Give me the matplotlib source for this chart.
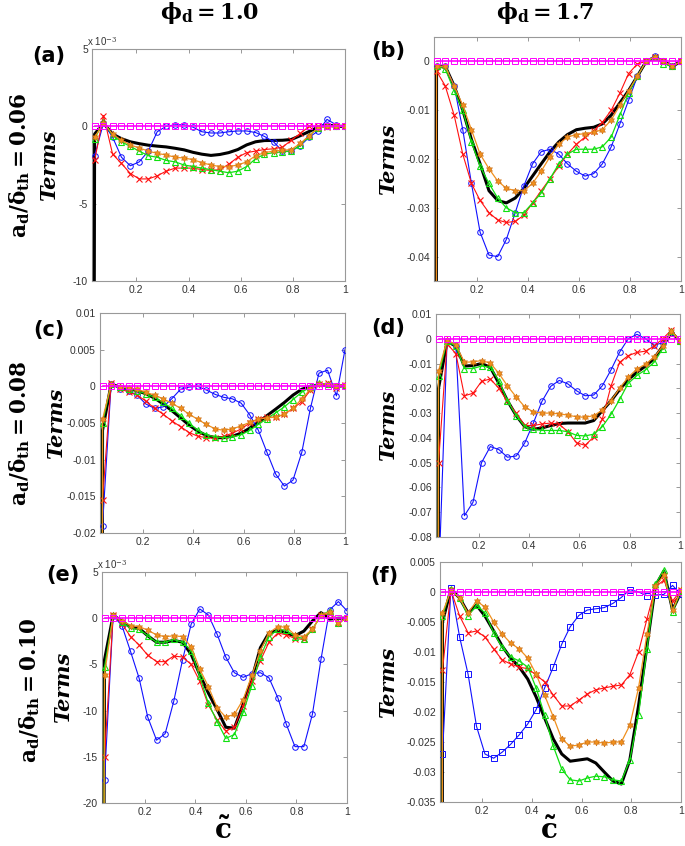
import numpy as np
import matplotlib
matplotlib.use("Agg")
import matplotlib.pyplot as plt

plt.rcParams["mathtext.fontset"] = "dejavuserif"

# progress variable grid; the first entry sits just left of the axis so the
# steep drop at small c shows up as a near-vertical line
C = [0.035, 0.040, 0.074, 0.109, 0.143, 0.177, 0.211, 0.246, 0.280, 0.314, 0.349,
     0.383, 0.417, 0.451, 0.486, 0.520, 0.554, 0.589, 0.623, 0.657, 0.691,
     0.726, 0.760, 0.794, 0.829, 0.863, 0.897, 0.931, 0.966, 1.000]
NAN = float("nan")
ZERO = [NAN, 0, 0, 0, 0, 0, 0, 0, 0, 0, 0, 0, 0, 0, 0, 0, 0, 0, 0, 0, 0,
        0, 0, 0, 0, 0, 0, 0, 0, 0]

# (a) phi=1.0, a/delta=0.06  (x 1e-3)
A_BLACK = [-40, -0.5, 0.2, -0.5, -0.8, -1.0, -1.12, -1.22, -1.28, -1.33, -1.42, -1.52, -1.68, -1.8, -1.88,
           -1.82, -1.7, -1.5, -1.2, -1.0, -0.92, -0.91, -0.9, -0.85, -0.6, -0.33, -0.05, 0.1, 0.0, 0.0]
A_BLUE = [NAN, -1.9, 0.2, -0.7, -2.0, -2.55, -2.3, -1.6, -0.35, 0.0, 0.1, 0.1, -0.05, -0.35, -0.43,
          -0.43, -0.35, -0.3, -0.3, -0.4, -0.65, -1.0, -1.6, -1.6, -1.25, -0.7, -0.3, 0.45, 0.1, 0.0]
A_RED = [NAN, -2.2, 0.7, -1.8, -2.4, -3.05, -3.4, -3.4, -3.2, -2.9, -2.7, -2.7, -2.7, -2.8, -2.85,
         -2.8, -2.45, -2.0, -1.7, -1.6, -1.5, -1.45, -1.35, -0.9, -0.45, 0.0, 0.0, -0.05, 0.0, 0.0]
A_GREEN = [NAN, -0.8, 0.3, -0.6, -1.0, -1.3, -1.6, -1.9, -2.0, -2.2, -2.3, -2.5, -2.6, -2.7, -2.8,
           -2.9, -3.0, -2.9, -2.6, -2.1, -1.8, -1.7, -1.65, -1.6, -1.2, -0.6, -0.1, 0.0, 0.0, 0.0]
A_ORANGE = [NAN, -0.7, 0.2, -0.5, -0.9, -1.2, -1.4, -1.6, -1.75, -1.85, -2.0, -2.05, -2.15, -2.35, -2.5,
            -2.6, -2.6, -2.5, -2.3, -1.9, -1.7, -1.6, -1.55, -1.5, -1.1, -0.6, -0.1, 0.0, 0.0, 0.0]

# (b) phi=1.7, a/delta=0.06
B_BLACK = [-0.3, -0.001, -0.001, -0.005, -0.010, -0.016, -0.021, -0.0265, -0.0285, -0.029, -0.028,
           -0.026, -0.0235, -0.021, -0.0185, -0.0165, -0.015, -0.014, -0.0137, -0.0135, -0.0128,
           -0.011, -0.0085, -0.006, -0.003, 0.0, 0.0008, 0.0, -0.001, 0.0]
B_BLUE = [NAN, -0.001, -0.001, -0.005, -0.014, -0.025, -0.035, -0.0397, -0.040, -0.0365, -0.031,
          -0.0255, -0.021, -0.0185, -0.018, -0.019, -0.021, -0.0225, -0.0235, -0.023, -0.021,
          -0.0175, -0.0128, -0.008, -0.003, 0.0, 0.0012, 0.0, -0.001, 0.0]
B_RED = [NAN, -0.002, -0.005, -0.011, -0.019, -0.025, -0.0285, -0.031, -0.0325, -0.033, -0.0328,
         -0.0315, -0.029, -0.0265, -0.024, -0.0215, -0.019, -0.017, -0.0155, -0.0142, -0.0125,
         -0.010, -0.0065, -0.0025, -0.0005, 0.0, 0.001, 0.0, -0.001, 0.0]
B_GREEN = [NAN, -0.001, -0.0015, -0.006, -0.010, -0.0165, -0.0215, -0.025, -0.028, -0.030, -0.031,
           -0.031, -0.029, -0.027, -0.024, -0.021, -0.019, -0.018, -0.018, -0.018, -0.0175,
           -0.0155, -0.011, -0.0065, -0.003, 0.0, 0.0008, -0.0005, -0.001, 0.0]
B_ORANGE = [-0.3, -0.001, -0.001, -0.005, -0.009, -0.014, -0.019, -0.022, -0.0245, -0.026, -0.0265,
            -0.0265, -0.025, -0.0225, -0.0195, -0.017, -0.0155, -0.015, -0.0148, -0.0145, -0.014,
            -0.012, -0.009, -0.006, -0.003, 0.0, 0.001, 0.0, -0.001, 0.0]

# (c) phi=1.0, a/delta=0.08
C_BLACK = [-0.3, -0.006, 0.0003, -0.0001, -0.0003, -0.0006, -0.001, -0.0016, -0.0024, -0.0033, -0.0043,
           -0.0053, -0.0061, -0.0067, -0.007, -0.007, -0.0068, -0.0064, -0.0057, -0.0049, -0.004,
           -0.0031, -0.0022, -0.0012, -0.0004, 0.0, 0.0002, 0.0001, 0.0, 0.0001]
C_BLUE = [-0.3, -0.019, 0.0003, -0.0003, -0.0006, -0.0012, -0.0024, -0.003, -0.0028, -0.0017, -0.0004,
          -0.0001, 0.0, -0.0005, -0.0011, -0.0015, -0.0017, -0.0023, -0.0039, -0.006, -0.009,
          -0.012, -0.0136, -0.0128, -0.009, -0.003, 0.0018, 0.0022, -0.0013, 0.005]
C_RED = [-0.3, -0.0155, 0.0005, -0.0003, -0.0008, -0.0012, -0.002, -0.003, -0.0038, -0.0047, -0.0055,
         -0.0063, -0.0068, -0.007, -0.0071, -0.0068, -0.0064, -0.0058, -0.005, -0.0044, -0.0042,
         -0.0042, -0.0038, -0.003, -0.0021, -0.0005, 0.0003, 0.0004, -0.0002, 0.0002]
C_GREEN = [-0.3, -0.005, 0.0003, -0.0001, -0.0003, -0.0006, -0.001, -0.0015, -0.0022, -0.003, -0.004,
           -0.005, -0.006, -0.0066, -0.0069, -0.007, -0.0069, -0.0066, -0.006, -0.0052, -0.0044,
           -0.0036, -0.0028, -0.0018, -0.0008, -0.0001, 0.0004, 0.0003, 0.0, 0.0002]
C_ORANGE = [-0.3, -0.0045, 0.0003, -0.0001, -0.0002, -0.0004, -0.0008, -0.0012, -0.0017, -0.0023, -0.003,
            -0.0038, -0.0045, -0.0052, -0.0058, -0.006, -0.0058, -0.0054, -0.0049, -0.0045, -0.0043,
            -0.0042, -0.0038, -0.003, -0.0017, -0.0004, 0.0003, 0.0003, 0.0001, 0.0002]

# (d) phi=1.7, a/delta=0.08
D_BLACK = [-0.5, -0.02, -0.001, -0.003, -0.011, -0.0108, -0.010, -0.0115, -0.018, -0.025, -0.031,
           -0.0355, -0.0365, -0.036, -0.035, -0.0342, -0.034, -0.034, -0.034, -0.033, -0.029,
           -0.025, -0.0205, -0.0165, -0.0135, -0.011, -0.008, -0.003, 0.0025, -0.001]
D_BLUE = [-0.5, -0.1, -0.001, -0.003, -0.0714, -0.066, -0.050, -0.0435, -0.0447, -0.0478, -0.0473,
          -0.042, -0.034, -0.0253, -0.0192, -0.0168, -0.0182, -0.021, -0.023, -0.0227, -0.019,
          -0.0125, -0.0054, 0.0, 0.0018, 0.0, -0.0026, -0.0016, 0.0025, -0.0007]
D_RED = [-0.5, -0.05, -0.002, -0.006, -0.023, -0.022, -0.0172, -0.0162, -0.020, -0.0253, -0.030,
         -0.035, -0.035, -0.0344, -0.034, -0.0345, -0.0375, -0.042, -0.043, -0.0396, -0.0325,
         -0.019, -0.0095, -0.0068, -0.0055, -0.005, -0.003, 0.0, 0.0035, -0.001]
D_GREEN = [-0.5, -0.015, -0.001, -0.003, -0.012, -0.012, -0.011, -0.0115, -0.017, -0.025, -0.031,
           -0.0355, -0.0365, -0.037, -0.037, -0.037, -0.0375, -0.039, -0.0392, -0.0385, -0.0355,
           -0.0305, -0.0245, -0.018, -0.0148, -0.0125, -0.0095, -0.004, 0.003, -0.001]
D_ORANGE = [-0.5, -0.013, -0.0005, -0.0025, -0.0095, -0.0093, -0.0088, -0.0098, -0.014, -0.019, -0.0235,
            -0.0275, -0.0295, -0.030, -0.030, -0.0303, -0.0308, -0.0315, -0.0317, -0.031, -0.0288,
            -0.025, -0.020, -0.0155, -0.0122, -0.0102, -0.0075, -0.003, 0.003, -0.001]

# (e) phi=1.0, a/delta=0.10  (x 1e-3)
E_BLACK = [-50, -4.5, 0.3, -0.3, -1.0, -1.1, -1.9, -2.6, -2.6, -2.4, -2.6, -3.9, -6.1, -8.1, -9.9,
           -11.8, -11.9, -9.3, -6.6, -3.2, -1.6, -1.3, -1.6, -1.9, -1.4, -0.3, 0.6, -0.1, 0.0, 0.0]
E_BLUE = [-50, -17.5, 0.25, -0.8, -3.6, -6.5, -10.7, -13.2, -12.5, -9.0, -4.5, -0.65, 1.0, 0.35, -1.75,
          -4.2, -5.9, -6.4, -6.0, -5.9, -6.45, -8.6, -11.5, -13.9, -13.9, -10.4, -4.45, 0.9, 1.8, 0.8]
E_RED = [-50, -15, 0.3, -0.6, -2.0, -2.9, -4.0, -4.7, -4.7, -4.1, -4.2, -5.0, -6.8, -9.4, -11.0,
         -12.2, -11.8, -9.5, -6.8, -4.6, -2.6, -1.6, -1.8, -2.2, -2.3, -1.2, 0.3, 0.5, -0.5, 0.0]
E_GREEN = [-50, -5.3, 0.3, -0.4, -1.1, -1.2, -1.9, -2.6, -2.6, -2.3, -2.6, -3.5, -6.3, -9.2, -11.2,
           -13.0, -12.6, -10.2, -7.3, -4.2, -2.0, -1.2, -1.3, -2.0, -2.2, -1.2, 0.3, 0.8, -0.5, 0.0]
E_ORANGE = [-50, -6.1, 0.3, -0.3, -0.8, -0.9, -1.3, -1.8, -2.0, -1.9, -2.0, -3.1, -5.5, -7.4, -9.7,
            -10.7, -10.4, -8.8, -6.2, -3.5, -1.6, -0.9, -1.0, -1.8, -2.0, -1.2, 0.3, 0.7, -0.5, 0.0]

# (f) phi=1.7, a/delta=0.10
F_BLACK = [-0.3, -0.005, 0.0005, -0.001, -0.0035, -0.0022, -0.004, -0.0065, -0.009, -0.011, -0.0125,
           -0.0145, -0.0175, -0.021, -0.0245, -0.027, -0.0282, -0.028, -0.0278, -0.0285, -0.03,
           -0.0315, -0.032, -0.028, -0.019, -0.009, 0.001, 0.0035, -0.003, 0.0]
F_BLUE = [-0.3, -0.027, 0.0007, -0.0075, -0.0137, -0.0224, -0.027, -0.0277, -0.0267, -0.0254, -0.0238,
          -0.022, -0.0196, -0.016, -0.0125, -0.0087, -0.0058, -0.0039, -0.003, -0.0028, -0.0026,
          -0.0019, -0.0009, 0.0004, 0.0, -0.0006, -0.0005, -0.0004, 0.0011, -0.0004]
F_RED = [-0.3, -0.013, 0.0003, -0.004, -0.0068, -0.0065, -0.0075, -0.0095, -0.0113, -0.012, -0.0125,
         -0.0128, -0.0138, -0.015, -0.0172, -0.019, -0.019, -0.018, -0.017, -0.0163, -0.016,
         -0.0157, -0.0155, -0.0138, -0.01, -0.0045, 0.0008, 0.002, -0.0015, 0.0003]
F_GREEN = [-0.3, -0.004, 0.0005, -0.001, -0.004, -0.0022, -0.0035, -0.0068, -0.0092, -0.0108, -0.0115,
           -0.0125, -0.016, -0.0205, -0.0257, -0.0295, -0.0313, -0.0315, -0.031, -0.0307, -0.0308,
           -0.0313, -0.0315, -0.028, -0.0205, -0.0095, 0.0013, 0.0037, -0.0033, 0.0002]
F_ORANGE = [-0.3, -0.0035, 0.0003, -0.001, -0.0035, -0.0015, -0.0025, -0.005, -0.007, -0.0085, -0.0095,
            -0.011, -0.0137, -0.0172, -0.0208, -0.0245, -0.0257, -0.0255, -0.025, -0.025, -0.0252,
            -0.025, -0.025, -0.0222, -0.016, -0.007, 0.001, 0.0028, -0.003, 0.0003]

PANELS = [
    # label, pixel box (left, right, top, bottom), letter xy, "Terms" x, data, ylim, yticks,
    # blue marker, values in units of 1e-3
    ("(a)", (92, 345, 49, 281), (49, 56), 49, (A_BLACK, A_BLUE, A_RED, A_GREEN, A_ORANGE),
     (-10, 5), [-10, -5, 0, 5], "o", True),
    ("(b)", (434, 681, 37, 281), (388, 51), 388, (B_BLACK, B_BLUE, B_RED, B_GREEN, B_ORANGE),
     (-0.045, 0.005), [-0.04, -0.03, -0.02, -0.01, 0], "o", False),
    ("(c)", (100, 345, 313, 533), (49, 330), 56, (C_BLACK, C_BLUE, C_RED, C_GREEN, C_ORANGE),
     (-0.02, 0.01), [-0.02, -0.015, -0.01, -0.005, 0, 0.005, 0.01], "o", False),
    ("(d)", (436, 680, 314, 537), (388, 328), 388, (D_BLACK, D_BLUE, D_RED, D_GREEN, D_ORANGE),
     (-0.08, 0.01), [-0.08, -0.07, -0.06, -0.05, -0.04, -0.03, -0.02, -0.01, 0, 0.01], "o", False),
    ("(e)", (102, 347, 572, 803), (63, 575), 63, (E_BLACK, E_BLUE, E_RED, E_GREEN, E_ORANGE),
     (-20, 5), [-20, -15, -10, -5, 0, 5], "o", True),
    ("(f)", (440, 681, 562, 802), (384, 576), 388, (F_BLACK, F_BLUE, F_RED, F_GREEN, F_ORANGE),
     (-0.035, 0.005), [-0.035, -0.03, -0.025, -0.02, -0.015, -0.01, -0.005, 0, 0.005], "s", False),
]

W, H = 685, 846
fig = plt.figure(figsize=(W / 100, H / 100), dpi=100)

ORANGE = "#F0901E"
HEXSTAR = (6, 1, 0)


def fmt_tick(v):
    return "0" if v == 0 else f"{v:g}"


for label, (l, r, t, b), (lx, ly), tx, series, ylim, yticks, bmark, scaled in PANELS:
    ax = fig.add_axes([l / W, 1 - b / H, (r - l) / W, (b - t) / H])
    black, blue, red, green, orange = series
    ax.plot(C, black, color="black", lw=2.2, zorder=3)
    ax.plot(C, blue, color="#1010FF", lw=0.8, marker=bmark, ms=4, mfc="none", mew=0.7, zorder=4)
    ax.plot(C, red, color="#FF1010", lw=0.8, marker="x", ms=4.5, mew=0.8, zorder=4)
    ax.plot(C, green, color="#10E010", lw=0.9, marker="^", ms=4, mfc="none", mew=0.8, zorder=4)
    ax.plot(C, orange, color=ORANGE, lw=0.9, marker=HEXSTAR, ms=5, mfc=ORANGE, mec="#C86A10",
            mew=0.4, zorder=4)
    ax.plot(C, ZERO, color="#FF00FF", lw=1.2, marker="s", ms=3.8, mfc="none", mew=0.7, zorder=5)

    ax.set_xlim(0.03, 1)
    ax.set_ylim(*ylim)
    ax.set_xticks([0.2, 0.4, 0.6, 0.8, 1.0])
    ax.set_xticklabels(["0.2", "0.4", "0.6", "0.8", "1"])
    ax.set_yticks(yticks)
    ax.set_yticklabels([fmt_tick(v) for v in yticks])
    ax.tick_params(direction="in", length=3, width=0.6, color="#888888", top=True, right=True,
                   labelsize=7.5, labelcolor="#333333", pad=3)
    for lab in ax.get_xticklabels() + ax.get_yticklabels():
        lab.set_fontfamily("Liberation Sans")
    for sp in ax.spines.values():
        sp.set_color("#999999")
        sp.set_linewidth(0.8)
    if scaled:
        ax.text(-0.02, 1.005, r"x 10$^{-3}$", transform=ax.transAxes, fontsize=7,
                color="#333333", ha="left", va="bottom", family="Liberation Sans")

    fig.text(lx / W, 1 - ly / H, label, fontsize=15, fontweight="bold", ha="center",
             va="center", family="DejaVu Sans")
    fig.text(tx / W, 1 - ((t + b) / 2) / H, "Terms", fontsize=15, fontweight="bold",
             fontstyle="italic", family="DejaVu Serif", rotation=90, ha="center", va="center")

# column headers
fig.text(210 / W, 1 - 13 / H, r"$\mathbf{\phi_d = 1.0}$", fontsize=16, ha="center", va="center")
fig.text(545 / W, 1 - 13 / H, r"$\mathbf{\phi_d = 1.7}$", fontsize=16, ha="center", va="center")

# row labels
for x, y, txt in [(20, 165, "0.06"), (20, 433, "0.08"), (30, 690, "0.10")]:
    fig.text(x / W, 1 - y / H, r"$\mathbf{a_d/\delta_{th} = " + txt + "}$", fontsize=15.5,
             rotation=90, ha="center", va="center")

# x labels
for x in (223, 549):
    fig.text(x / W, 1 - 831 / H, r"$\mathbf{\tilde{c}}$", fontsize=20, ha="center", va="center")

fig.savefig("out.png", dpi=100)
